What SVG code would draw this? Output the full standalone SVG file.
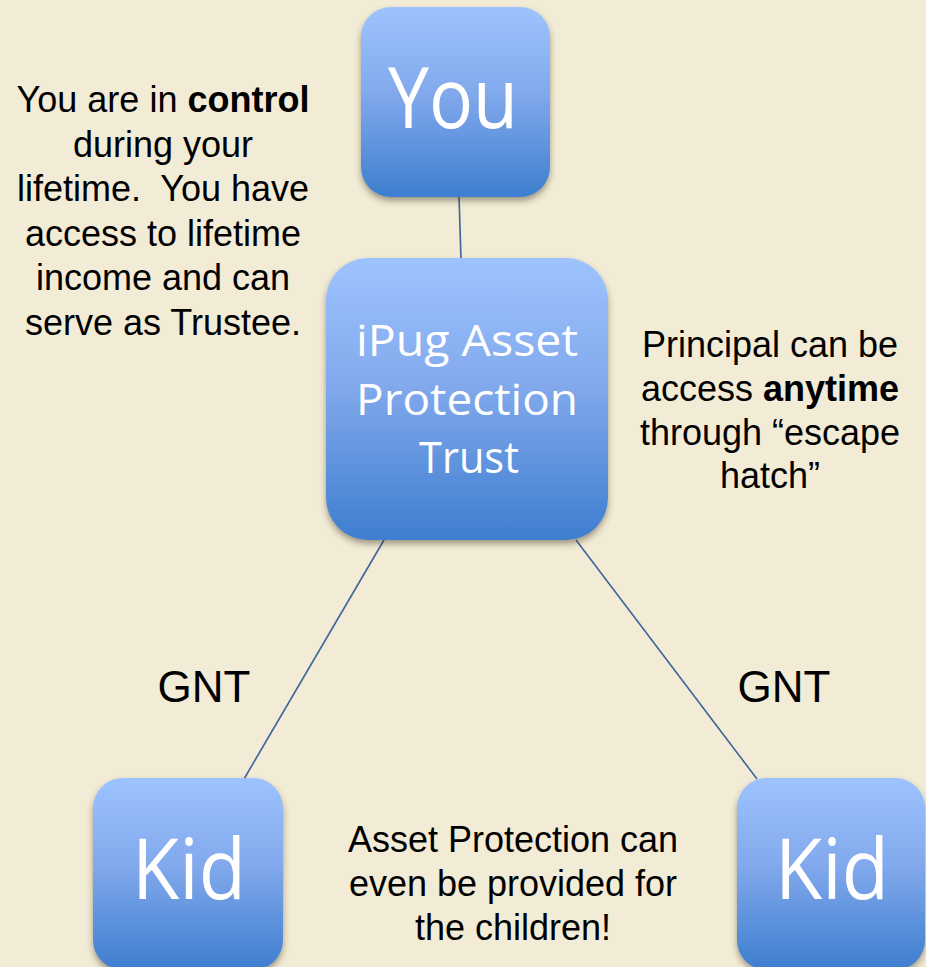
<svg xmlns="http://www.w3.org/2000/svg" width="926" height="967" viewBox="0 0 926 967">
  <defs>
    <linearGradient id="boxFill" x1="0" y1="0" x2="0" y2="1">
      <stop offset="0" stop-color="#9DC3FF"/>
      <stop offset="0.45" stop-color="#82A9EC"/>
      <stop offset="1" stop-color="#3E7ECF"/>
    </linearGradient>
    <filter id="shadow" x="-10%" y="-10%" width="120%" height="125%">
      <feDropShadow dx="0" dy="4" stdDeviation="3" flood-color="#3a3020" flood-opacity="0.45"/>
    </filter>
  </defs>
  <style>
    .box { fill: url(#boxFill); filter: url(#shadow); }
    .label { font-family: "Open Sans", "Noto Sans", sans-serif; fill: #ffffff; text-anchor: middle; }
    .note { font-family: "Liberation Sans", Arial, sans-serif; font-size: 36px; fill: #000000; text-anchor: middle; }
    .gnt { font-family: "Liberation Sans", Arial, sans-serif; font-size: 44px; fill: #000000; text-anchor: middle; }
    .link { stroke: #3B6699; stroke-width: 1.6; fill: none; }
    .b { font-weight: bold; }
  </style>

  <rect width="926" height="967" fill="#F2EBD5"/>

  <!-- connectors -->
  <g id="connectors">
    <line class="link" x1="459" y1="196" x2="461" y2="259"/>
    <line class="link" x1="384" y1="540" x2="244" y2="779"/>
    <line class="link" x1="576" y1="540" x2="757" y2="779"/>
  </g>

  <!-- nodes -->
  <g id="node-you">
    <rect class="box" x="361" y="7" width="189" height="190" rx="30"/>
    <text class="label" x="453" y="128" font-size="84" textLength="130" lengthAdjust="spacingAndGlyphs">You</text>
  </g>

  <g id="node-trust">
    <rect class="box" x="326" y="258" width="282" height="282" rx="42"/>
    <text class="label" x="467" y="356" font-size="44" textLength="222" lengthAdjust="spacingAndGlyphs">iPug Asset</text>
    <text class="label" x="467" y="415" font-size="44" textLength="222" lengthAdjust="spacingAndGlyphs">Protection</text>
    <text class="label" x="469" y="473" font-size="44" textLength="100" lengthAdjust="spacingAndGlyphs">Trust</text>
  </g>

  <g id="node-kid-left">
    <rect class="box" x="93" y="778" width="190" height="192" rx="30"/>
    <text class="label" x="189" y="899" font-size="85" textLength="114" lengthAdjust="spacingAndGlyphs">Kid</text>
  </g>

  <g id="node-kid-right">
    <rect class="box" x="737" y="778" width="188" height="192" rx="30"/>
    <text class="label" x="832" y="899" font-size="85" textLength="114" lengthAdjust="spacingAndGlyphs">Kid</text>
  </g>

  <!-- annotations -->
  <g id="note-left">
    <text class="note" x="163" y="112">You are in <tspan class="b">control</tspan></text>
    <text class="note" x="163" y="157">during your</text>
    <text class="note" x="163" y="201">lifetime.&#160; You have</text>
    <text class="note" x="163" y="246">access to lifetime</text>
    <text class="note" x="163" y="290">income and can</text>
    <text class="note" x="163" y="335">serve as Trustee.</text>
  </g>

  <g id="note-right">
    <text class="note" x="770" y="357">Principal can be</text>
    <text class="note" x="770" y="401">access <tspan class="b">anytime</tspan></text>
    <text class="note" x="770" y="445">through “escape</text>
    <text class="note" x="770" y="488">hatch”</text>
  </g>

  <g id="note-bottom">
    <text class="note" x="513" y="852">Asset Protection can</text>
    <text class="note" x="513" y="896">even be provided for</text>
    <text class="note" x="513" y="940">the children!</text>
  </g>

  <g id="edge-labels">
    <text class="gnt" x="204" y="702">GNT</text>
    <text class="gnt" x="784" y="702">GNT</text>
  </g>
</svg>
